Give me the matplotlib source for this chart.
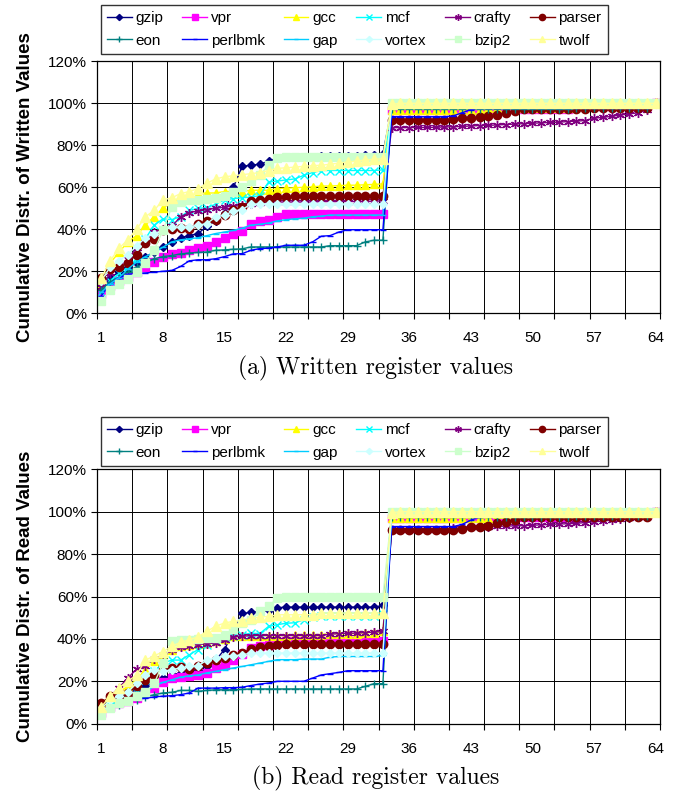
import numpy as np
import matplotlib.pyplot as plt
from matplotlib.ticker import FixedLocator, NullFormatter

# register count (category axis)
regs = np.arange(1, 65)
names = ['gzip', 'vpr', 'gcc', 'mcf', 'crafty', 'parser',
         'eon', 'perlbmk', 'gap', 'vortex', 'bzip2', 'twolf']
xtick_labels = [1, 8, 15, 22, 29, 36, 43, 50, 57, 64]

# (a) written register values, cumulative %
gzip_w = [10.8, 17, 19.6, 22, 24, 27, 29, 31.5, 34, 36, 37, 38, 41.5, 44, 48, 60, 70,
          70.5, 71, 72.4, 74, 74.5, 74.5, 74.5, 74.5, 74.8, 75, 75, 75, 75, 75.2, 75.5, 76,
          97.5, 97.5, 97.5, 97.5, 97.5, 97.5, 97.5, 97.5, 97.5, 97.5, 97.5, 97.5,
          98, 98, 98, 98, 98, 98, 98, 98, 98, 98,
          98.5, 98.5, 98.5, 98.5, 98.5, 98.5, 98.5, 98.5, 100]
vpr_w = [9, 13, 15.6, 17.5, 19.6, 22, 24.4, 27, 28.3, 28.5, 30, 31, 32, 34, 36, 38, 39,
         42.4, 44, 44.6, 46,
         47.5, 47.5, 47.5, 47.5, 47.5, 47.5, 47.5, 47.5, 47.5, 47.5, 47.5, 47.5,
         97, 97, 97, 97, 97, 97, 97, 97, 97, 97, 97,
         97.5, 97.5, 97.5, 97.5, 97.5, 97.5, 97.5, 97.5, 97.5, 97.5,
         98.5, 98.5, 98.5, 98.5, 98.5, 98.5, 98.5, 98.5, 98.5, 100]
gcc_w = [14, 24, 29, 34, 37, 42, 46, 50, 53, 54.6, 56, 57, 57.3, 57.3, 58, 58, 58,
         58.6, 58.6, 58.6, 59.4, 59.6, 59.8, 60, 60.2, 60.6, 60.6, 60.8, 61, 61, 61.2, 61.4, 61.6,
         97, 97, 97, 97, 97, 97, 97, 97, 97, 97, 97,
         98, 98, 98, 98, 98, 98, 98, 98, 98, 98,
         99, 99, 99, 99, 99, 99, 99, 99, 99, 100]
mcf_w = [10, 15.6, 19, 22, 26, 35.5, 42, 45, 44.6, 46, 49, 50, 50.3, 52, 54, 54.6, 55,
         55.4, 56, 62.5, 63, 63.5, 64, 65.7, 67, 68, 68, 68, 68, 68, 68, 68, 68.3,
         99.5, 99.5, 99.5, 99.5, 99.5, 99.5, 99.5, 99.5, 99.5, 99.5,
         99.5, 99.5, 99.5, 99.5, 99.5, 99.5, 99.5, 99.5, 99.5, 99.5,
         99.5, 99.5, 99.5, 99.5, 99.5, 99.5, 99.5, 99.5, 99.5, 99.5, 100]
crafty_w = [12.4, 19, 22, 26, 31, 34, 38.7, 40, 41.4, 46, 48, 48.7, 49.4, 50, 50.6, 51, 51.4,
            52, 52.5, 53, 53, 53, 53, 53, 53, 53.2, 53.2, 53.2, 53.2, 53.3, 53.3, 53.4, 53.5,
            88.4, 88.4, 88.4, 88.5, 88.5, 88.6, 88.7, 88.8, 89, 89.2,
            89.4, 89.5, 89.7, 89.9, 90.1, 90.3, 90.5, 90.7, 90.9, 91,
            91.3, 91.5, 91.8, 92.9, 93.3, 93.8, 94.4, 94.9, 95.5, 96.8, 99.7]
parser_w = [17, 21, 22, 24, 28, 33.4, 35.5, 39.5, 40, 40.8, 40, 42.7, 44, 44.6, 47, 49, 50.5,
            53.5, 54, 54.6, 55.2, 55.5, 55.7, 55.7, 55.7, 55.7, 55.7, 55.7, 55.7, 55.7, 55.7, 55.7, 55.7,
            92, 92, 92, 92, 92, 92, 92,
            92.3, 92.8, 93, 93.3, 93.9, 94.6, 95.5, 96.5,
            97.5, 97.5, 97.5, 97.5, 97.5, 97.5, 97.5, 97.5,
            98, 98, 98, 98, 98, 98, 98, 100]
eon_w = [11, 15, 17, 19.6, 22, 24, 26, 27, 27.5, 28.3, 28.7, 29, 29.2, 30, 30.2, 30.5, 30.7,
         31.6, 31.6, 31.6, 31.6, 31.6, 31.6, 31.6, 31.6, 31.6, 32.2, 32.2, 32.2, 32.2, 34, 34.8, 34.8,
         97.5, 97.5, 97.5, 97.5, 97.5, 97.5, 97.5, 97.5, 97.5, 97.5, 97.5,
         97.5, 97.5, 97.5, 97.5, 97.5, 97.5, 97.5, 97.5, 97.5, 97.5,
         98, 98, 98, 98, 98, 98, 98, 98, 98, 100]
perlbmk_w = [8.4, 14, 17, 18.5, 19, 19.2, 19.6, 20, 20.4, 22.3, 25, 25.5, 25.5, 26, 27, 28.3, 28.4,
             30, 30.8, 31, 31.6, 32.4, 32.4, 32.4, 34, 36.7, 37, 38.7, 39.8, 39.8, 39.8, 39.8, 39.8,
             93.6, 93.6, 93.6, 93.6, 93.6, 93.6, 93.6, 94, 95.5, 97, 97.8,
             98, 98, 98, 98, 98, 98, 98, 98, 98, 98,
             98, 98, 98, 98, 98, 98, 98, 98, 98, 100]
gap_w = [10, 14, 17, 21, 24.4, 27, 29, 31.5, 34, 35, 35.5, 36, 37, 38, 38.7, 39.5, 40.5,
         42, 42.4, 43, 44, 44.6, 45, 45.3, 46, 46.3, 46.8, 46.8, 46.8, 46.8, 46.8, 46.8, 46.8,
         99.2, 99.2, 99.2, 99.2, 99.2, 99.2, 99.2, 99.2, 99.2, 99.2,
         99.2, 99.2, 99.2, 99.2, 99.2, 99.2, 99.2, 99.2, 99.2, 99.2,
         99.2, 99.2, 99.2, 99.2, 99.2, 99.2, 99.2, 99.2, 99.2, 99.2, 100]
vortex_w = [15.6, 22, 25, 28, 32, 36, 38, 39.5, 41, 41, 41, 42, 42.7, 46, 46.7, 48.7, 49.4,
            52, 52, 52, 52, 52, 52, 52, 52, 52, 52, 52, 52, 52, 52, 52, 52,
            99.5, 99.5, 99.5, 99.5, 99.5, 99.5, 99.5, 99.5, 99.5, 99.5,
            99.5, 99.5, 99.5, 99.5, 99.5, 99.5, 99.5, 99.5, 99.5, 99.5,
            99.5, 99.5, 99.5, 99.5, 99.5, 99.5, 99.5, 99.5, 99.5, 99.5, 100]
bzip2_w = [6, 11, 14, 16.4, 19.6, 24, 30, 39.5, 50.6, 53, 54, 54, 54.6, 55, 56, 58, 60,
           63, 65.7, 70.5, 74, 74.5, 74.5, 74.5, 74.5, 74.5, 74.5, 74.5, 74.5, 74.5, 74.5, 74.5, 74.5,
           100, 100, 100, 100, 100, 100, 100, 100, 100, 100,
           100, 100, 100, 100, 100, 100, 100, 100, 100, 100,
           100, 100, 100, 100, 100, 100, 100, 100, 100, 100, 100]
twolf_w = [17, 25, 31, 35, 40, 46, 49, 54, 55, 57, 58, 59.4, 62, 64, 65, 65.5, 66,
           66.5, 67, 68, 69, 69.3, 69.6, 70, 70.3, 70.5, 71, 71.5, 72, 72.5, 73, 73.3, 73.6,
           99.5, 100, 100, 100, 100, 100, 100, 100, 100, 100,
           100, 100, 100, 100, 100, 100, 100, 100, 100, 100,
           100, 100, 100, 100, 100, 100, 100, 100, 100, 100, 100]

# (b) read register values, cumulative %
gzip_r = [6.6, 9.7, 12, 13.7, 16.4, 18, 19, 21.5, 23, 24, 25, 25.5, 27, 30, 35, 43.6, 52,
          52.5, 53, 53.4, 54.7, 55, 55, 55, 55, 55, 55, 55, 55, 55, 55, 55, 55.8,
          97.5, 97.5, 97.5, 97.5, 97.5, 97.5, 97.5, 97.5, 97.5, 97.5, 97.5, 97.5,
          98, 98, 98, 98, 98, 98, 98, 98, 98, 98,
          98.5, 98.5, 98.5, 98.5, 98.5, 98.5, 98.5, 98.5, 100]
vpr_r = [5, 8, 9.7, 10.5, 12, 14.5, 16.8, 19.5, 21.5, 22, 22.3, 23, 24, 26.3, 27.8, 30, 33,
         35.7, 36.5, 37.2, 38,
         38.8, 38.8, 38.8, 38.8, 38.8, 38.8, 38.8, 38.8, 38.8, 38.8, 38.8, 38.8,
         97, 97, 97, 97, 97, 97, 97, 97, 97, 97, 97, 97,
         97.5, 97.5, 97.5, 97.5, 97.5, 97.5, 97.5, 97.5, 97.5, 97.5,
         98.5, 98.5, 98.5, 98.5, 98.5, 98.5, 98.5, 98.5, 100]
gcc_r = [5.8, 11, 15, 17.6, 20.7, 25.5, 29.4, 31.8, 35, 36.5, 37.3, 37.7, 38, 38.8, 40, 41.5, 41.5,
         41.6, 41.6, 41.6, 41.6, 41.6, 42, 42, 42, 42, 42.5, 42.5, 42.5, 42.5, 43, 43, 43.5,
         97, 97, 97, 97, 97, 97, 97, 97, 97, 97, 97, 97,
         99, 99, 99, 99, 99, 99, 99, 99, 99,
         99, 99, 99, 99, 99, 99, 99, 99, 99, 100]
mcf_r = [5.8, 9, 10.5, 12, 15, 20.7, 24.7, 28.6, 30, 30, 32.5, 35, 37.3, 38.8, 40.4, 41.5, 41.9,
         42.7, 42.5, 45.9, 46.7, 47.4, 47.6, 49, 50.3, 50.6, 50.6, 50.6, 50.6, 50.6, 50.6, 50.6, 51.8,
         99.5, 99.5, 99.5, 99.5, 99.5, 99.5, 99.5, 99.5, 99.5, 99.5,
         99.5, 99.5, 99.5, 99.5, 99.5, 99.5, 99.5, 99.5, 99.5, 99.5,
         99.5, 99.5, 99.5, 99.5, 99.5, 99.5, 99.5, 99.5, 99.5, 99.5, 100]
crafty_r = [9, 13, 17, 21.5, 25.8, 27.4, 30.5, 32.5, 35, 36, 36.8, 37.3, 37.7, 38, 39.6, 40.9, 41.2,
            41.6, 41.6, 41.6, 41.6, 41.6, 41.6, 41.6, 41.6, 41.6, 42.2, 42.5, 42.7, 42.7, 43, 43.2, 43.5,
            91.5, 91.5, 91.5, 91.5, 91.5, 91.5, 91.5,
            92.2, 92.4, 92.6, 92.8, 93, 93.1, 93.2, 93.3, 93.4, 93.6, 93.8, 94,
            94.2, 94.3, 94.5, 94.9, 95.2, 95.6, 96, 96.4, 96.8, 97.3, 98, 99.7]
parser_r = [9.7, 13, 13.2, 14.5, 17.6, 20.4, 23, 27, 26.3, 26.7, 25.8, 27, 28.6, 30, 31, 32.5, 33.3,
            35.2, 36, 36.5, 37, 37.7, 37.7, 37.7, 37.7, 37.7, 37.7, 37.7, 37.7, 37.7, 37.7, 37.7, 37.7,
            91.4, 91.4, 91.4, 91.4, 91.4, 91.4, 91.4, 91.4,
            92, 92.6, 93, 93.4, 94.5, 95.3, 96,
            97.5, 97.5, 97.5, 97.5, 97.5, 97.5, 97.5, 97.5,
            97.5, 97.5, 97.5, 97.5, 97.5, 97.5, 97.5, 100]
eon_r = [5, 7.4, 9, 10.5, 11.3, 12.6, 13.7, 14.5, 14.8, 15.7, 15.7, 15.3, 15.7, 16, 16, 16, 16.2,
         16.4, 16.4, 16.4, 16.4, 16.4, 16.4, 16.4, 16.4, 16.4, 16.4, 16.4, 16.4, 16.4, 17.6, 18.9, 18.9,
         97.5, 97.5, 97.5, 97.5, 97.5, 97.5, 97.5, 97.5, 97.5, 97.5, 97.5,
         97.5, 97.5, 97.5, 97.5, 97.5, 97.5, 97.5, 97.5, 97.5, 97.5,
         98, 98, 98, 98, 98, 98, 98, 98, 98, 100]
perlbmk_r = [5.3, 8, 9.7, 11, 11.6, 12, 12.6, 13, 13.2, 13.7, 14.5, 16.8, 16.8, 16.8, 17, 17, 17.2,
             18, 18.7, 19.2, 20, 20, 20, 20, 21.5, 23, 23.6, 24.2, 25, 25, 25, 25, 25,
             93, 93, 93, 93, 93, 93, 93, 93, 94, 96, 97.5,
             98, 98, 98, 98, 98, 98, 98, 98, 98, 98,
             98, 98, 98, 98, 98, 98, 98, 98, 98, 100]
gap_r = [5.8, 8, 9.7, 11.3, 13, 15, 17.6, 19.5, 20.7, 22, 22.6, 23, 24, 24.7, 25.5, 26.3, 27,
         27.8, 28.6, 29.4, 30.2, 30.2, 30.2, 30.5, 30.5, 30.5, 31.4, 31.7, 31.7, 31.7, 31.7, 31.7, 32.2,
         99.2, 99.2, 99.2, 99.2, 99.2, 99.2, 99.2, 99.2, 99.2, 99.2,
         99.2, 99.2, 99.2, 99.2, 99.2, 99.2, 99.2, 99.2, 99.2, 99.2,
         99.2, 99.2, 99.2, 99.2, 99.2, 99.2, 99.2, 99.2, 99.2, 99.2, 100]
vortex_r = [7.4, 11, 13, 15, 19, 23, 25.5, 24.7, 25.5, 26.3, 27, 27.4, 30, 31, 31.8, 32, 32.5,
            33.3, 33.3, 33.3, 33.3, 33.3, 33.3, 33.3, 33.3, 33.3, 33.3, 33.3, 33.3, 33.3, 33.3, 33.3, 33.3,
            99.5, 99.5, 99.5, 99.5, 99.5, 99.5, 99.5, 99.5, 99.5, 99.5,
            99.5, 99.5, 99.5, 99.5, 99.5, 99.5, 99.5, 99.5, 99.5, 99.5,
            99.5, 99.5, 99.5, 99.5, 99.5, 99.5, 99.5, 99.5, 99.5, 99.5, 100]
bzip2_r = [4, 7.4, 9.7, 10.5, 13, 15, 19, 28.6, 38.8, 39.6, 39.6, 40, 40.4, 40.4, 42, 44.7, 47.5,
           49, 53, 55.3, 59.2, 60, 60, 60, 60, 60, 60, 60, 60, 60, 60, 60, 60,
           100, 100, 100, 100, 100, 100, 100, 100, 100, 100,
           100, 100, 100, 100, 100, 100, 100, 100, 100, 100,
           100, 100, 100, 100, 100, 100, 100, 100, 100, 100, 100]
twolf_r = [8, 13, 17, 20, 23, 30, 32, 34, 36.5, 38.4, 39.6, 41, 43.6, 46, 47.5, 48.3, 48.6,
           49.8, 50.3, 50.6, 51.4, 51.4, 51.4, 51.4, 51.4, 52.2, 52.2, 52.2, 52.2, 52.2, 52.2, 52.2, 52.2,
           99.5, 100, 100, 100, 100, 100, 100, 100, 100, 100,
           100, 100, 100, 100, 100, 100, 100, 100, 100, 100,
           100, 100, 100, 100, 100, 100, 100, 100, 100, 100, 100]

written = [gzip_w, vpr_w, gcc_w, mcf_w, crafty_w, parser_w,
           eon_w, perlbmk_w, gap_w, vortex_w, bzip2_w, twolf_w]
read = [gzip_r, vpr_r, gcc_r, mcf_r, crafty_r, parser_r,
        eon_r, perlbmk_r, gap_r, vortex_r, bzip2_r, twolf_r]

# Excel-like series styles: color, marker, marker size
styles = {
    'gzip':    ('#000080', 'D', 4.2),
    'vpr':     ('#FF00FF', 's', 5.3),
    'gcc':     ('#FFFF00', '^', 6),
    'mcf':     ('#00FFFF', 'x', 5.3),
    'crafty':  ('#800080', (6, 2, 0), 6.5),
    'parser':  ('#800000', 'o', 6),
    'eon':     ('#008080', '+', 6),
    'perlbmk': ('#0000FF', '_', 4.5),
    'gap':     ('#00CCFF', '_', 4.5),
    'vortex':  ('#CCFFFF', 'D', 4.2),
    'bzip2':   ('#CCFFCC', 's', 6),
    'twolf':   ('#FFFF99', '^', 6.5),
}

plt.rcParams['font.family'] = ['Liberation Sans', 'DejaVu Sans']

W, H = 676, 794
fig = plt.figure(figsize=(W / 100, H / 100), dpi=100)


def draw_panel(ax, data, ylabel):
    xs = regs - 0.5
    handles = []
    for name, vals in zip(names, data):
        assert len(vals) == 64, name
        c, m, ms = styles[name]
        h, = ax.plot(xs, vals, color=c, marker=m, ms=ms, lw=1.0,
                     mec=c, mfc=c, mew=1.0, label=name)
        handles.append(h)
    ax.set_xlim(0, 64)
    ax.set_ylim(0, 120)
    ax.xaxis.set_major_locator(FixedLocator(np.arange(0, 65, 4)))
    ax.xaxis.set_major_formatter(NullFormatter())
    ax.xaxis.set_minor_locator(FixedLocator([k - 0.5 for k in xtick_labels]))
    ax.set_xticklabels([str(k) for k in xtick_labels], minor=True)
    ax.tick_params(axis='x', which='major', length=4, width=0.8, direction='out')
    ax.tick_params(axis='x', which='minor', length=0, pad=13, labelsize=11)
    ax.set_yticks(np.arange(0, 121, 20))
    ax.set_yticklabels(['{}%'.format(v) for v in range(0, 121, 20)])
    ax.tick_params(axis='y', length=4, width=0.8, direction='out', labelsize=11, pad=3)
    ax.grid(True, which='major', color='black', lw=0.7)
    for s in ax.spines.values():
        s.set_color('black')
        s.set_linewidth(0.9)
    ax.set_ylabel(ylabel, fontsize=13.5, fontweight='bold', labelpad=10)
    return handles


def add_legend(handles, top_px):
    order = [0, 6, 1, 7, 2, 8, 3, 9, 4, 10, 5, 11]
    leg = fig.legend([handles[i] for i in order], [names[i] for i in order],
                     ncol=6, loc='upper left',
                     bbox_to_anchor=(101 / W, 1 - top_px / H),
                     fontsize=11, frameon=True, fancybox=False, edgecolor='black',
                     handlelength=1.6, handletextpad=0.25, columnspacing=1.25,
                     borderpad=0.4, labelspacing=0.55, markerscale=0.75,
                     borderaxespad=0)
    leg.get_frame().set_linewidth(1.0)


ax1 = fig.add_axes([97 / W, 1 - 313.3 / H, 563 / W, 252 / H])
h1 = draw_panel(ax1, written, 'Cumulative Distr. of Written Values')
add_legend(h1, 5)
fig.text(376 / W, 1 - 368 / H, '(a) Written register values', ha='center', va='center',
         fontname='cmr10', fontsize=17)

ax2 = fig.add_axes([97 / W, 1 - 723.7 / H, 563 / W, 254.4 / H])
h2 = draw_panel(ax2, read, 'Cumulative Distr. of Read Values')
add_legend(h2, 417)
fig.text(376 / W, 1 - 778 / H, '(b) Read register values', ha='center', va='center',
         fontname='cmr10', fontsize=17)

fig.savefig('out.png', dpi=100)
